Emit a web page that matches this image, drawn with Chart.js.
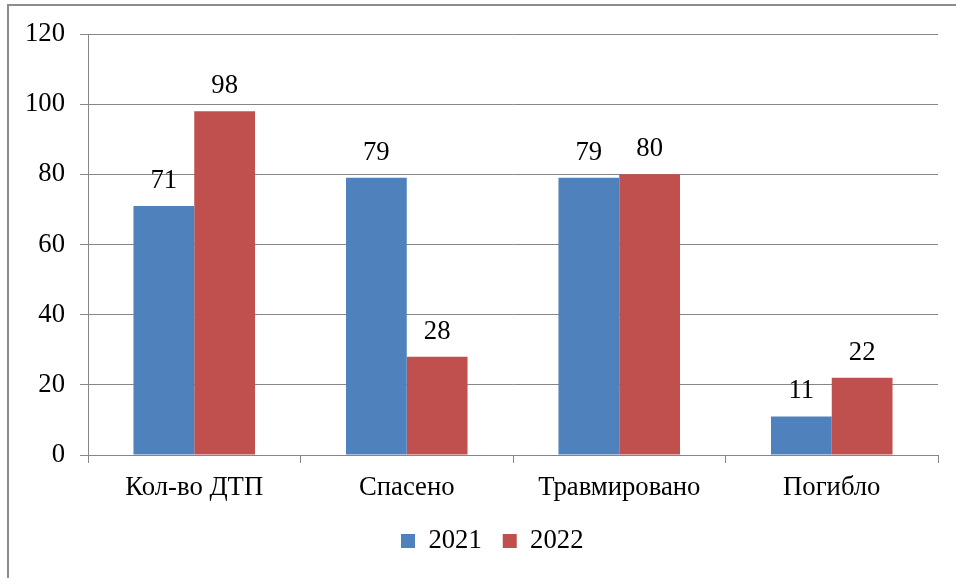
<!DOCTYPE html>
<html>
<head>
<meta charset="utf-8">
<script src="https://cdn.jsdelivr.net/npm/chart.js@4.4.1/dist/chart.umd.min.js"></script>
<style>
  html, body { margin: 0; padding: 0; background: #ffffff; overflow: hidden; }
  #wrap { position: relative; width: 956px; height: 578px; }
  #frame { position: absolute; left: 7px; top: 4px; width: 1000px; height: 700px;
           border-top: 2px solid #8c8c8c; border-left: 2px solid #8c8c8c; pointer-events: none; }
  canvas { position: absolute; left: 0; top: 0; }
</style>
</head>
<body>
<div id="wrap">
  <canvas id="c" width="956" height="578"></canvas>
  <div id="frame"></div>
</div>
<script>
const categories = ['Кол-во ДТП', 'Спасено', 'Травмировано', 'Погибло'];
const seriesNames = ['2021', '2022'];
const values2021 = [71, 79, 79, 11];
const values2022 = [98, 28, 80, 22];
const yTicks = [0, 20, 40, 60, 80, 100, 120];

const FONT = '"Liberation Serif", "Times New Roman", serif';
const FS = 26.7;
const GRID = '#868686';

const dataLabels = {
  id: 'dataLabels',
  afterDatasetsDraw(chart) {
    const ctx = chart.ctx;
    ctx.save();
    ctx.font = FS + 'px ' + FONT;
    ctx.fillStyle = '#000';
    ctx.textAlign = 'center';
    ctx.textBaseline = 'alphabetic';
    chart.data.datasets.forEach((ds, i) => {
      const meta = chart.getDatasetMeta(i);
      meta.data.forEach((el, j) => {
        ctx.fillText(String(ds.data[j]), el.x, el.y - 18);
      });
    });
    ctx.restore();
  }
};

const shiftLegend = {
  id: 'shiftLegend',
  afterLayout(chart) {
    if (chart.legend) {
      chart.legend.left = 46.5;
      chart.legend.right = 938;
      chart.legend.width = chart.legend.right - chart.legend.left;
    }
  }
};

new Chart(document.getElementById('c'), {
  type: 'bar',
  data: {
    labels: categories,
    datasets: [
      { label: seriesNames[0], data: values2021, backgroundColor: '#4F81BD', borderWidth: 0 },
      { label: seriesNames[1], data: values2022, backgroundColor: '#C0504D', borderWidth: 0 }
    ]
  },
  options: {
    responsive: false,
    animation: false,
    devicePixelRatio: 1,
    layout: { padding: { left: 0, right: 18, top: 34, bottom: 13.7 } },
    datasets: { bar: { categoryPercentage: 0.572, barPercentage: 1.0 } },
    plugins: {
      tooltip: { enabled: false },
      legend: {
        position: 'bottom',
        align: 'center',
        labels: {
          boxWidth: 14, boxHeight: 14, padding: 21,
          color: '#000',
          font: { family: FONT, size: FS }
        }
      }
    },
    scales: {
      x: {
        grid: { display: true, drawOnChartArea: false, drawTicks: true, tickLength: 8, color: GRID, offset: true },
        border: { display: true, color: GRID, width: 1 },
        ticks: { color: '#000', font: { family: FONT, size: FS }, padding: 9, maxRotation: 0 },
        afterFit(scale) { scale.height = 51.6; }
      },
      y: {
        min: 0, max: 120,
        afterBuildTicks(scale) { scale.ticks = yTicks.map(v => ({ value: v })); },
        grid: { color: GRID, lineWidth: 1, drawTicks: true, tickLength: 8 },
        border: { display: true, color: GRID, width: 1 },
        ticks: { color: '#000', font: { family: FONT, size: FS }, padding: 15 },
        afterFit(scale) { scale.width = 88; }
      }
    }
  },
  plugins: [dataLabels, shiftLegend]
});
</script>
</body>
</html>
